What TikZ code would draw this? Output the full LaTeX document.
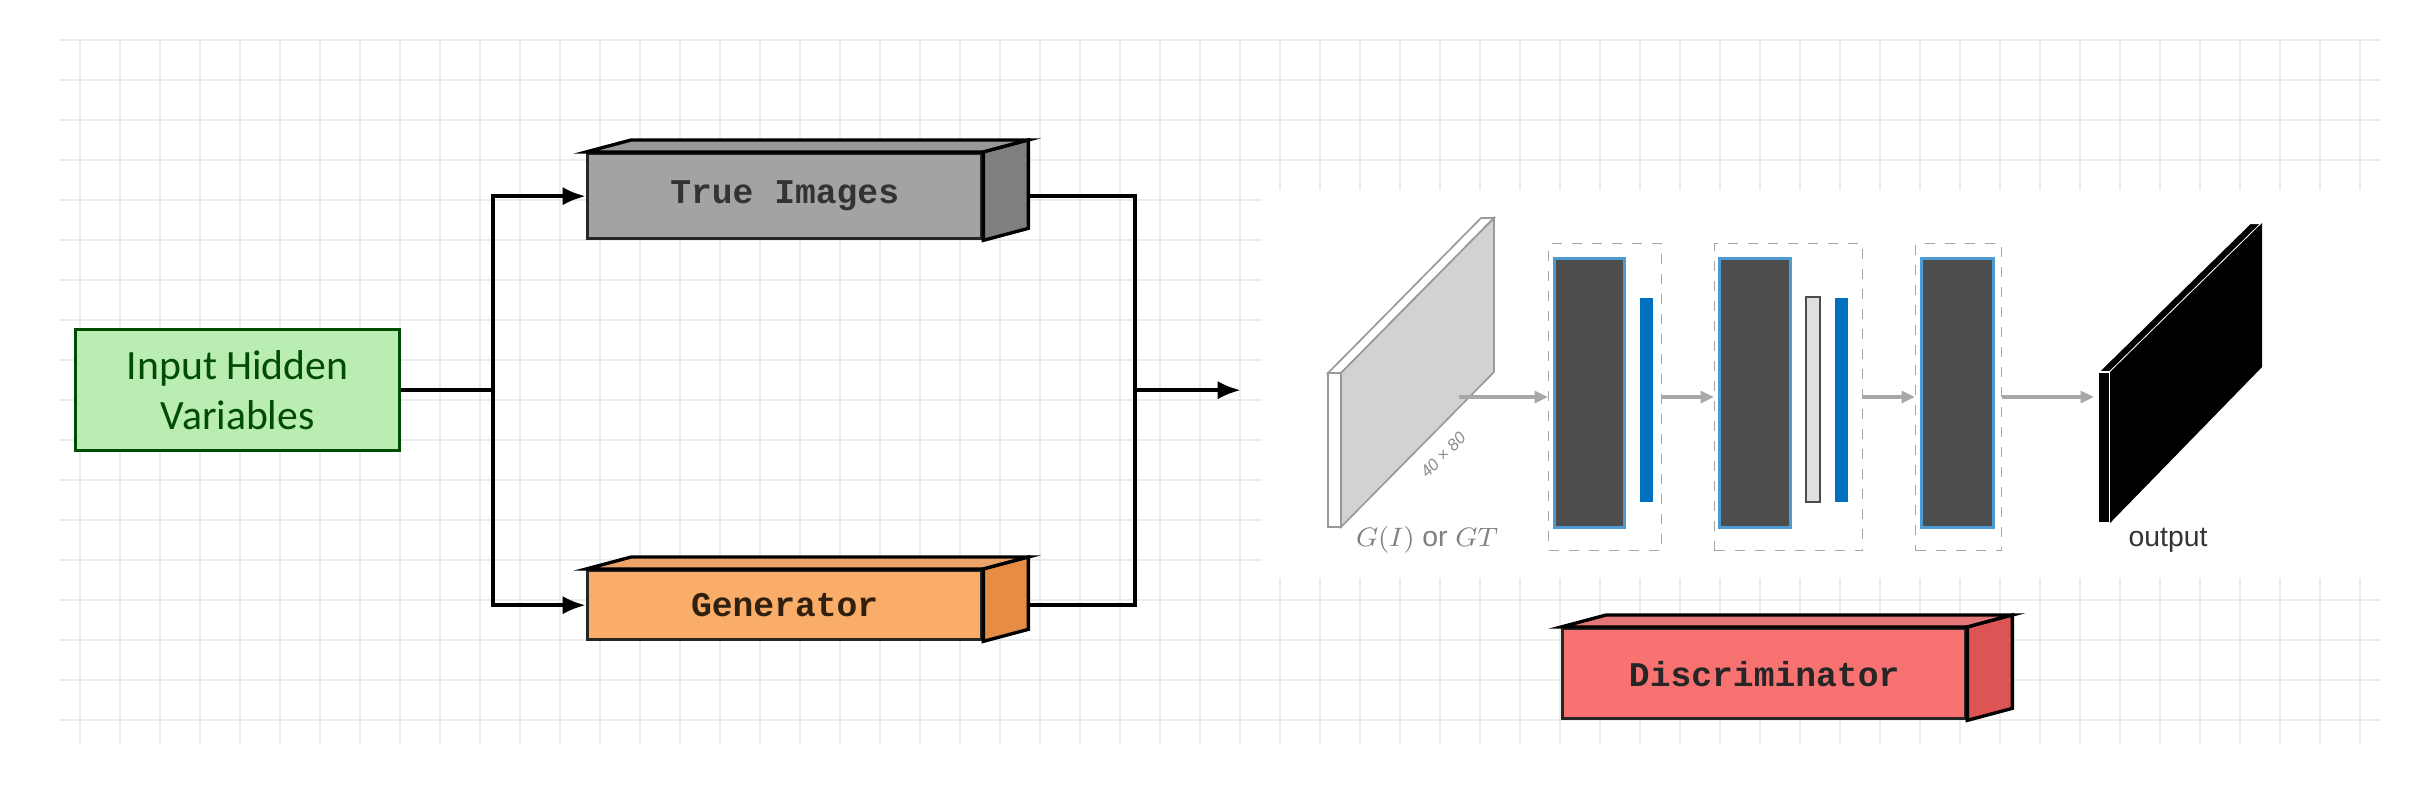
\documentclass[tikz,border=0pt]{standalone}
\usepackage{fontspec}
\setmainfont{Liberation Sans}
\newfontfamily\boxfont{Liberation Mono}
\newfontfamily\cfont{Carlito}
\usetikzlibrary{arrows.meta}
\definecolor{gridgray}{HTML}{ECECEC}
\definecolor{inputgreen}{HTML}{B9EDB1}
\definecolor{truefront}{HTML}{A3A3A3}
\definecolor{trueside}{HTML}{7F7F7F}
\definecolor{genfront}{HTML}{F9AD69}
\definecolor{genside}{HTML}{E68C45}
\definecolor{discfront}{HTML}{F87272}
\definecolor{discside}{HTML}{DC5454}
\definecolor{layerdark}{HTML}{4D4D4D}
\definecolor{layerblue}{HTML}{0070C0}
\definecolor{flowgray}{HTML}{A8A8A8}
\tikzset{every picture/.style={line width=0.75pt}}
\tikzset{
  blockbox/.style={draw=black!85,line width=1pt,anchor=north west,inner sep=0pt,font=\boxfont\bfseries\fontsize{10.4}{12}\selectfont},
  flow/.style={line width=1.3pt,-{Latex[length=7pt,width=5.5pt]}},
  thin flow/.style={draw=flowgray,line width=1.1pt,-{Triangle[length=4pt,width=3.5pt]}},
  convbox/.style={draw=gray!70,dashed,line width=0.4pt},
  convlayer/.style={fill=layerdark,draw=layerblue!70,line width=0.9pt}
}

\begin{document}
\begin{tikzpicture}[x=0.3pt,y=0.3pt,yscale=-1,xscale=1]
    \useasboundingbox (0,0) rectangle (2429,791);
    \fill[white] (0,0) rectangle (2429,791);
    %background grid
    \draw[gridgray,line width=0.5pt] (60,40) grid[step=40] (2380,745);
    \fill[white] (1262,190) rectangle (2385,578);

    %generator side
    \node[blockbox,fill=inputgreen,draw=black!70!green,minimum width=97.2pt,minimum height=36.3pt,align=center,font=\cfont\fontsize{12.5}{15}\selectfont,text=black!70!green] (in) at (74,328) {Input Hidden\\Variables};
    \node[blockbox,fill=truefront,minimum width=118.2pt,minimum height=25.5pt,text=black!80] (true) at (586,152) {True Images};
    \node[blockbox,fill=genfront,minimum width=118.2pt,minimum height=20.7pt,text=black!75!brown] (gen) at (586,569) {Generator};
    \node[blockbox,fill=discfront,minimum width=120.9pt,minimum height=27pt,text=black!85] (disc) at (1561,627) {Discriminator};

    %depth faces
    \foreach \b/\top/\side in {true/trueside/trueside,gen/genside/genside,disc/discside/discside}{
      \draw[fill=\top!80!white,line width=1pt] (\b.north west) -- ([shift={(45,-12)}]\b.north west) -- ([shift={(45,-12)}]\b.north east) -- (\b.north east) -- cycle;
      \draw[fill=\side,line width=1pt] (\b.north east) -- ([shift={(45,-12)}]\b.north east) -- ([shift={(45,-12)}]\b.south east) -- (\b.south east) -- cycle;
    }

    %connectors
    \coordinate (lj) at (in.east -| 493,0);
    \coordinate (rj) at (in.east -| 1135,0);
    \coordinate (out) at (in.east -| 1241,0);
    \draw[line width=1.3pt] (in.east) -- (lj);
    \draw[flow] (lj) |- (true.west);
    \draw[flow] (lj) |- (gen.west);
    \draw[line width=1.3pt] ([xshift=13.5pt]true.east) -| (rj) |- ([xshift=13.5pt]gen.east);
    \draw[flow] (rj) -- (out);

    %input slab
    \draw[fill=white,draw=gray!80,line width=0.5pt] (1328,373) -- (1481,218) -- (1494,218) -- (1341,373) -- cycle;
    \draw[fill=white,draw=gray!80,line width=0.5pt] (1328,373) rectangle (1341,527);
    \draw[fill=gray!35,draw=gray!80,line width=0.5pt] (1341,373) -- (1494,218) -- (1494,372) -- (1341,527) -- cycle;
    \node[rotate=45,font=\itshape\fontsize{5}{6}\selectfont,text=gray!90] (size) at (1443,455) {40 × 80};
    \node[text=gray,font=\fontsize{8.5}{10}\selectfont] (inlabel) at (1427,540) {$G(I)$ or $GT$};

    %conv blocks
    \node[convbox,minimum width=33.9pt,minimum height=92.1pt,anchor=north west] (c1) at (1548,243) {};
    \node[convbox,minimum width=44.4pt,minimum height=92.1pt,anchor=north west] (c2) at (1714,243) {};
    \node[convbox,minimum width=25.8pt,minimum height=92.1pt,anchor=north west] (c3) at (1915,243) {};
    \draw[convlayer] (1554,258) rectangle (1624,527);
    \fill[layerblue] (1640,298) rectangle (1653,502);
    \draw[convlayer] (1719,258) rectangle (1790,527);
    \draw[fill=gray!25,draw=black!70,line width=0.8pt] (1806,297) rectangle (1820,502);
    \fill[layerblue] (1835,298) rectangle (1848,502);
    \draw[convlayer] (1921,258) rectangle (1993,527);

    %output slab
    \draw[fill=black,draw=white,line width=0.6pt] (2098,372) -- (2250,223) -- (2262,223) -- (2110,372) -- cycle;
    \draw[fill=black,draw=white,line width=0.6pt] (2098,372) rectangle (2110,523);
    \fill[black] (2110,372) -- (2262,223) -- (2262,367) -- (2110,523) -- cycle;
    \node[font=\fontsize{8.5}{10}\selectfont,text=black!80] (outlabel) at (2168,540) {output};

    %flow arrows
    \coordinate (s0) at (1459,397);
    \coordinate (s4) at (2094,397);
    \draw[thin flow] (s0) -- (c1.west |- s0);
    \draw[thin flow] (c1.east |- s0) -- (c2.west |- s0);
    \draw[thin flow] (c2.east |- s0) -- (c3.west |- s0);
    \draw[thin flow] (c3.east |- s0) -- (s4);
\end{tikzpicture}
\end{document}
